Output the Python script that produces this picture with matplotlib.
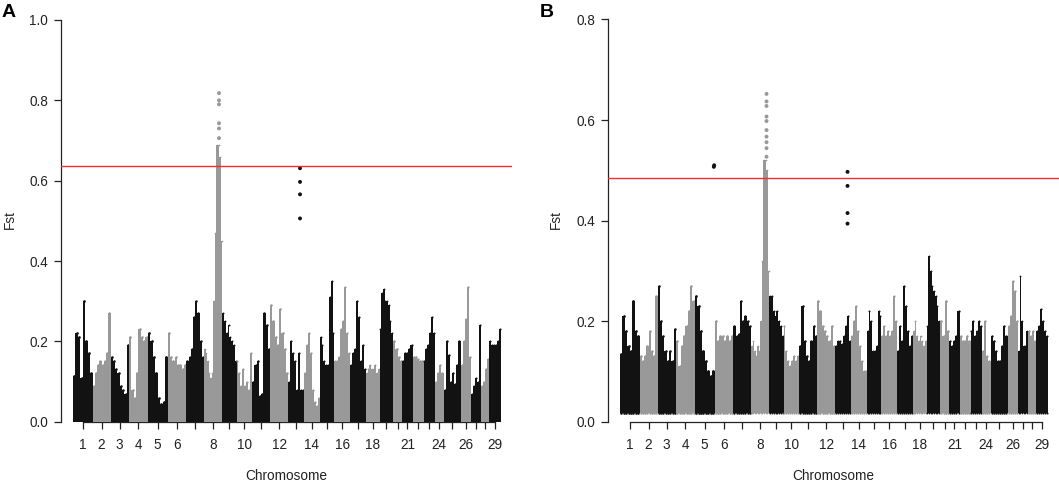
import numpy as np
import matplotlib
matplotlib.use("Agg")
import matplotlib.pyplot as plt

plt.rcParams['font.family'] = ['Liberation Sans', 'DejaVu Sans']

# ---------------- data ----------------
chromosomes = list(range(1, 30))
shown_labels = [1, 2, 3, 4, 5, 6, 8, 10, 12, 14, 16, 18, 21, 24, 26, 29]
chrom_offset = 72   # cumulative position (Mb) where chr1 starts
chrom_len = [117, 108, 111, 113, 118, 113, 106, 110, 85, 94, 107, 110, 91, 97,
             88, 94, 95, 82, 81, 56, 61, 66, 69, 51, 102, 63, 57, 51, 69]

# per-chromosome upper envelope of Fst (max per window)
fst_max_A = [
    [0.115, 0.22, 0.21, 0.11, 0.30, 0.20, 0.17, 0.12],
    [0.09, 0.12, 0.14, 0.15, 0.14, 0.15, 0.17, 0.27],
    [0.16, 0.15, 0.13, 0.12, 0.09, 0.08, 0.07, 0.19],
    [0.21, 0.08, 0.06, 0.12, 0.23, 0.21, 0.20, 0.21],
    [0.22, 0.20, 0.16, 0.12, 0.06, 0.045, 0.05, 0.16],
    [0.22, 0.16, 0.15, 0.16, 0.14, 0.14, 0.13, 0.14],
    [0.15, 0.16, 0.18, 0.26, 0.30, 0.27, 0.20, 0.16],
    [0.18, 0.17, 0.15, 0.12, 0.11, 0.12, 0.30, 0.47, 0.69, 0.69, 0.66, 0.45],
    [0.27, 0.25, 0.22, 0.24, 0.21, 0.20, 0.19, 0.15],
    [0.15, 0.12, 0.09, 0.13, 0.09, 0.10, 0.08, 0.17],
    [0.10, 0.14, 0.15, 0.065, 0.07, 0.27, 0.24, 0.18],
    [0.29, 0.25, 0.21, 0.19, 0.28, 0.22, 0.18, 0.12],
    [0.10, 0.20, 0.17, 0.15, 0.08, 0.17, 0.08, 0.08],
    [0.12, 0.19, 0.22, 0.17, 0.08, 0.05, 0.04, 0.06],
    [0.21, 0.19, 0.15, 0.14, 0.14, 0.31, 0.35, 0.22],
    [0.15, 0.15, 0.16, 0.23, 0.25, 0.335, 0.22, 0.17],
    [0.14, 0.17, 0.18, 0.30, 0.26, 0.15, 0.19, 0.13],
    [0.12, 0.13, 0.14, 0.13, 0.13, 0.14, 0.12, 0.13],
    [0.23, 0.32, 0.33, 0.30, 0.30, 0.29, 0.25, 0.22],
    [0.20, 0.18, 0.16, 0.15],
    [0.15, 0.17, 0.17, 0.18, 0.19],
    [0.16, 0.16, 0.155, 0.15, 0.15],
    [0.15, 0.18, 0.19, 0.22, 0.26, 0.22],
    [0.10, 0.12, 0.14, 0.12],
    [0.08, 0.20, 0.165, 0.10, 0.12, 0.095, 0.14, 0.20],
    [0.14, 0.20, 0.255, 0.335, 0.16],
    [0.07, 0.09, 0.11, 0.10, 0.24],
    [0.09, 0.10, 0.13, 0.155],
    [0.20, 0.19, 0.19, 0.19, 0.20, 0.23],
]
fst_max_B = [
    [0.135, 0.21, 0.18, 0.15, 0.14, 0.24, 0.18, 0.17],
    [0.13, 0.12, 0.13, 0.15, 0.18, 0.14, 0.13, 0.25],
    [0.27, 0.20, 0.17, 0.14, 0.12, 0.14, 0.12, 0.185],
    [0.16, 0.11, 0.15, 0.17, 0.19, 0.22, 0.27, 0.24],
    [0.25, 0.23, 0.18, 0.14, 0.12, 0.10, 0.09, 0.10],
    [0.20, 0.16, 0.17, 0.17, 0.16, 0.17, 0.16, 0.17],
    [0.19, 0.17, 0.175, 0.24, 0.20, 0.21, 0.20, 0.19],
    [0.15, 0.16, 0.14, 0.13, 0.15, 0.14, 0.20, 0.32, 0.52, 0.52, 0.50, 0.30],
    [0.25, 0.25, 0.22, 0.21, 0.22, 0.20, 0.19, 0.17],
    [0.19, 0.14, 0.12, 0.11, 0.12, 0.13, 0.12, 0.13],
    [0.15, 0.23, 0.16, 0.13, 0.12, 0.16, 0.19, 0.17],
    [0.24, 0.22, 0.19, 0.18, 0.17, 0.16, 0.19, 0.15],
    [0.15, 0.16, 0.16, 0.155, 0.17, 0.19, 0.21, 0.16],
    [0.17, 0.20, 0.23, 0.18, 0.15, 0.12, 0.10, 0.10],
    [0.18, 0.22, 0.20, 0.14, 0.14, 0.15, 0.22, 0.21],
    [0.17, 0.19, 0.17, 0.18, 0.17, 0.18, 0.25, 0.20],
    [0.14, 0.19, 0.16, 0.27, 0.23, 0.18, 0.15, 0.17],
    [0.18, 0.20, 0.17, 0.16, 0.17, 0.16, 0.15, 0.16],
    [0.19, 0.33, 0.30, 0.27, 0.26, 0.25, 0.23, 0.20],
    [0.20, 0.17, 0.24, 0.18],
    [0.16, 0.15, 0.16, 0.17, 0.22],
    [0.17, 0.16, 0.16, 0.17, 0.16],
    [0.18, 0.20, 0.17, 0.18, 0.20, 0.19],
    [0.14, 0.20, 0.13, 0.12],
    [0.17, 0.16, 0.14, 0.12, 0.12, 0.15, 0.19, 0.17],
    [0.19, 0.21, 0.28, 0.26, 0.20],
    [0.14, 0.29, 0.20, 0.15, 0.15, 0.18],
    [0.18, 0.17, 0.18, 0.16],
    [0.18, 0.19, 0.225, 0.20, 0.18, 0.17],
]
fst_min_A = 0.0
fst_min_B = 0.018

# isolated SNPs above the bulk: (chromosome, cumulative position Mb, Fst)
outliers_A_chr = [8, 8, 8, 8, 8, 8, 13, 13, 13, 13]
outliers_A_pos = [948, 948, 948, 948, 948, 948, 1434, 1434, 1434, 1434]
outliers_A_fst = [0.818, 0.80, 0.79, 0.743, 0.73, 0.706, 0.631, 0.597, 0.566, 0.506]
outliers_B_chr = [8, 8, 8, 8, 8, 8, 8, 8, 8, 8, 13, 13, 13, 13, 5, 5]
outliers_B_pos = [951, 951, 951, 951, 951, 951, 951, 951, 951, 951,
                  1437, 1437, 1437, 1437, 635, 637]
outliers_B_fst = [0.652, 0.637, 0.628, 0.607, 0.598, 0.58, 0.567, 0.556, 0.544, 0.527,
                  0.497, 0.469, 0.415, 0.394, 0.507, 0.510]

threshold_A = 0.6365
threshold_B = 0.4855
yticks_A = [0.0, 0.2, 0.4, 0.6, 0.8, 1.0]
yticks_B = [0.0, 0.2, 0.4, 0.6, 0.8]
x_total = 2704  # cumulative genome axis extent (Mb)

# ---------------- figure ----------------
W, H = 1059, 483
fig = plt.figure(figsize=(W / 100, H / 100), dpi=100)

BLACK = '#121212'
GREY = '#999999'
INK = '#222222'
FS = 9.8


def add_axes(l, r, t, b):
    return fig.add_axes([l / W, 1 - b / H, (r - l) / W, (b - t) / H])


starts = chrom_offset + np.concatenate([[0], np.cumsum(chrom_len)[:-1]])
mids = starts + np.array(chrom_len) / 2.0


def draw(ax, ax_w_px, env, floor, o_chr, o_pos, o_fst, thr, yticks):
    ax.set_xlim(0, x_total)
    ax.set_ylim(0, yticks[-1])
    px_per_unit = ax_w_px / x_total
    for i, vals in enumerate(env):
        n = len(vals)
        w = chrom_len[i] / n
        xs = starts[i] + w * (np.arange(n) + 0.5)
        col = BLACK if i % 2 == 0 else GREY
        # solid body of the window columns (no gaps between neighbours)
        edges = starts[i] + w * np.arange(n + 1)
        ax.stairs(vals, edges, baseline=floor, fill=True, color=col,
                  linewidth=0, zorder=2)
        # rounded point-like tops of each column
        ax.scatter(xs, vals, s=(w * px_per_unit * 0.72 * 1.1) ** 2,
                   c=col, linewidths=0, zorder=2)
        if floor > 0:
            ax.scatter(xs, np.full(n, floor), s=(w * px_per_unit * 0.72 * 1.1) ** 2,
                       c=col, linewidths=0, zorder=2)
    ocol = [BLACK if c % 2 == 1 else GREY for c in o_chr]
    ax.scatter(o_pos, o_fst, s=8, c=ocol, linewidths=0, zorder=3)
    ax.axhline(thr, color='#ff2a2a', lw=1.0, zorder=5)

    for s in ['top', 'right']:
        ax.spines[s].set_visible(False)
    ax.spines['left'].set_bounds(0, yticks[-1])
    ax.spines['bottom'].set_bounds(mids[0], mids[-1])
    ax.spines['bottom'].set_zorder(1)
    for s in ['left', 'bottom']:
        ax.spines[s].set_linewidth(0.9)
        ax.spines[s].set_color(INK)

    ax.set_yticks(yticks)
    ax.set_yticklabels([f'{v:.1f}' for v in yticks])
    ax.set_xticks(mids)
    ax.set_xticklabels([str(c) if c in shown_labels else '' for c in chromosomes])
    ax.tick_params(axis='y', length=5.2, width=0.9, pad=4.0, labelsize=FS,
                   color=INK, labelcolor=INK)
    ax.tick_params(axis='x', length=4.8, width=0.9, pad=7.0, labelsize=FS,
                   color=INK, labelcolor=INK)
    ax.patch.set_alpha(0)


axA = add_axes(61, 511.7, 20, 421.7)
axB = add_axes(608, 1058.7, 19.5, 421.7)

draw(axA, 511.7 - 61, fst_max_A, fst_min_A, outliers_A_chr, outliers_A_pos,
     outliers_A_fst, threshold_A, yticks_A)
draw(axB, 1058.7 - 608, fst_max_B, fst_min_B, outliers_B_chr, outliers_B_pos,
     outliers_B_fst, threshold_B, yticks_B)

# axis titles
for xc, yc in [(10, 220), (556, 220)]:
    fig.text(xc / W, 1 - yc / H, 'Fst', rotation=90, ha='center', va='center',
             fontsize=FS, color=INK)
for xc in [286.4, 833.4]:
    fig.text(xc / W, 1 - 476.5 / H, 'Chromosome', ha='center', va='center',
             fontsize=FS, color=INK)

# panel letters
fig.text(2 / W, 1 - 17.3 / H, 'A', ha='left', va='baseline', fontsize=14,
         fontweight='bold')
fig.text(539.5 / W, 1 - 17.3 / H, 'B', ha='left', va='baseline', fontsize=14,
         fontweight='bold')

fig.savefig('out.png', dpi=100)
